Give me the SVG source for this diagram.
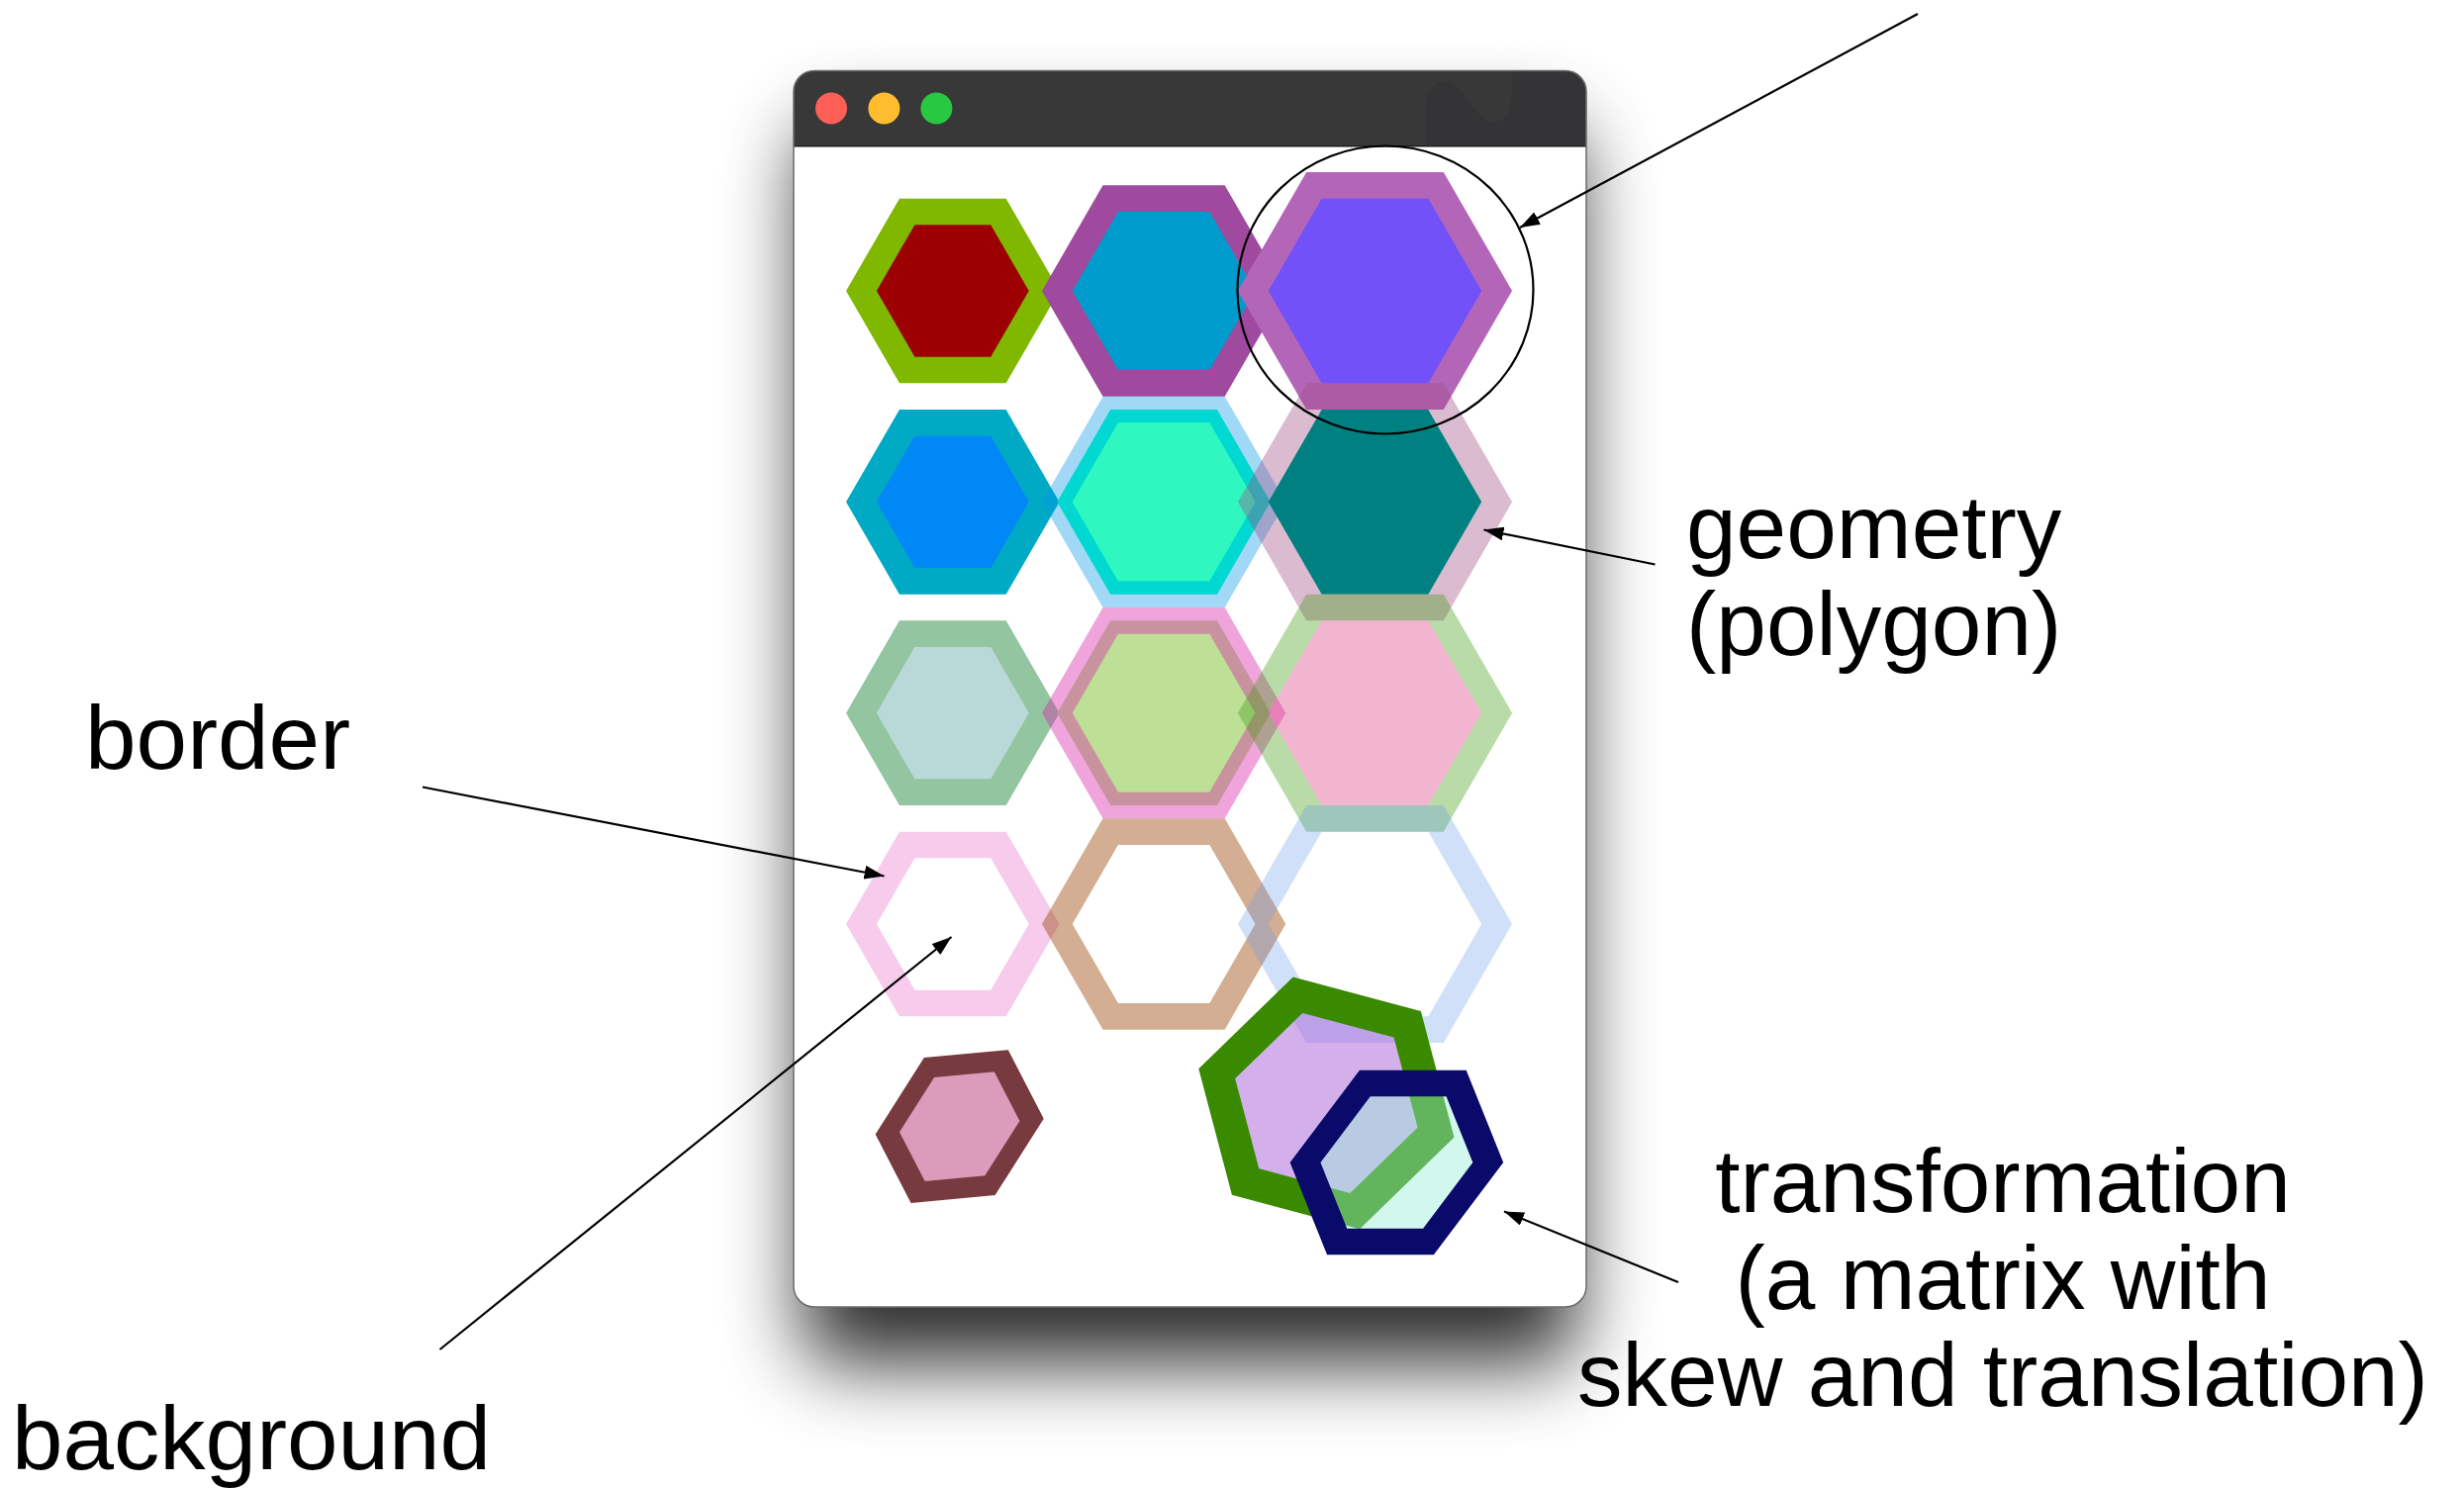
<svg xmlns="http://www.w3.org/2000/svg" xmlns:xlink="http://www.w3.org/1999/xlink" width="2490" height="1504" viewBox="0 0 2490 1504">
<style>
.lbl{font-family:"Liberation Sans",Arial,Helvetica,sans-serif;font-size:91px;fill:#000}
.conn{stroke:#000;stroke-width:2.2;fill:none;marker-end:url(#ah)}
.rw{stroke-width:26.67;stroke-linejoin:miter}
</style>
<defs>
<filter id="shadow" x="-30%" y="-20%" width="160%" height="140%"><feGaussianBlur stdDeviation="40"/></filter>
<clipPath id="winclip"><rect x="802" y="71.5" width="801" height="1249.5" rx="21"/></clipPath>
<marker id="ah" viewBox="0 0 20 14" refX="20" refY="7" markerWidth="20" markerHeight="14" markerUnits="userSpaceOnUse" orient="auto"><path d="M0,0 L20,7 L0,14 z" fill="#000"/></marker>
<polygon id="hA" points="92.376,0 46.188,-80 -46.188,-80 -92.376,0 -46.188,80 46.188,80"/>
<polygon id="hB" points="107.772,0 53.886,-93.333 -53.886,-93.333 -107.772,0 -53.886,93.333 53.886,93.333"/>
<polygon id="hC" points="123.168,0 61.584,-106.667 -61.584,-106.667 -123.168,0 -61.584,106.667 61.584,106.667"/>
</defs>
<rect width="2490" height="1504" fill="#fff"/>
<g id="window">
<rect x="812" y="128" width="781" height="1250" rx="30" fill="#000" opacity="0.82" filter="url(#shadow)"/>
<rect x="802" y="71.5" width="801" height="1249.5" rx="21" fill="#fff"/>
<path d="M802,147.7 L802,92.5 A21,21 0 0 1 823,71.5 L1582,71.5 A21,21 0 0 1 1603,92.5 L1603,147.7 Z" fill="#383838"/>
<path clip-path="url(#winclip)" d="M1441.7,147.7 L1441.7,103 C1441.7,88 1455,80 1465,83 C1480,88 1495,124 1508,124 C1522,124 1527,108 1528,96 L1528,71 L1610,71 L1610,147.7 Z" fill="#343437"/>
<line x1="802" y1="147.7" x2="1603" y2="147.7" stroke="#1c1c1c" stroke-width="1.5"/>
<rect x="802" y="71.5" width="801" height="1249.5" rx="21" fill="none" stroke="#6b6b6b" stroke-width="1.5"/>
<circle cx="840" cy="109.5" r="16" fill="#fe5f57"/>
<circle cx="893.4" cy="109.5" r="16" fill="#febc2e"/>
<circle cx="946.4" cy="109.5" r="16" fill="#28c840"/>
</g>
<g id="hex-r1c1"><use href="#hA" x="962.8" y="294" class="rw" fill="#9c0000" stroke="#80b800"/></g>
<g id="hex-r1c2"><use href="#hB" x="1176.1" y="294" class="rw" fill="#009bcd" stroke="#9f4a9e"/></g>
<g id="hex-r1c3"><use href="#hC" x="1389.5" y="294" class="rw" fill="#7251f9" stroke="#b366b8"/></g>
<g id="hex-r2c1"><use href="#hA" x="962.8" y="507.3" class="rw" fill="#0088f6" stroke="#00aac4"/></g>
<g id="hex-r2c2"><use href="#hB" x="1176.1" y="507.3" class="rw" fill="#00ffc4" stroke="rgba(0,150,230,0.37)"/><use href="#hA" x="1176.1" y="507.3" fill="#2ef8bf"/></g>
<g id="hex-r2c3"><use href="#hB" x="1389.5" y="507.3" fill="#008080"/><use href="#hC" x="1389.5" y="507.3" class="rw" fill="none" stroke="rgba(160,76,131,0.38)"/></g>
<g id="hex-r3c1"><use href="#hA" x="962.8" y="720.7" class="rw" fill="#b9d9d8" stroke="#93c5a0"/></g>
<g id="hex-r3c2"><use href="#hB" x="1176.1" y="720.7" class="rw" fill="#bddf96" stroke="rgba(217,40,171,0.42)"/></g>
<g id="hex-r3c3"><use href="#hB" x="1389.5" y="720.7" fill="rgba(222,65,134,0.39)"/><use href="#hC" x="1389.5" y="720.7" class="rw" fill="none" stroke="rgba(58,155,13,0.36)"/></g>
<g id="hex-r4c1"><use href="#hA" x="962.8" y="934" class="rw" fill="none" stroke="#f6cbec"/></g>
<g id="hex-r4c2"><use href="#hB" x="1176.1" y="934" class="rw" fill="none" stroke="rgba(157,75,13,0.45)"/></g>
<g id="hex-r4c3"><use href="#hC" x="1389.5" y="934" class="rw" fill="none" stroke="rgba(98,152,232,0.3)"/></g>
<g id="hex-small" transform="matrix(0.789,-0.073,-0.071,0.787,969.7,1138.6)"><use href="#hA" class="rw" fill="#db9bbb" stroke="#773a3f"/></g>
<g id="hex-rotated" transform="matrix(1.198,0.321,-0.331,1.18,1340.4,1114.9)"><use href="#hA" class="rw" fill="rgba(167,97,217,0.5)" stroke="#3a8a00"/></g>
<g id="hex-skewed" transform="matrix(1,0,-0.176,1,1411.4,1175)"><use href="#hA" class="rw" fill="rgba(150,239,215,0.43)" stroke="#0a0a6a"/></g>
<g id="highlight-circle"><ellipse cx="1400" cy="293" rx="149.5" ry="145.5" fill="none" stroke="#000" stroke-width="2.2"/></g>
<g id="connectors">
<line class="conn" x1="1938" y1="14" x2="1536" y2="230"/>
<line class="conn" x1="1672.5" y1="570.5" x2="1499.5" y2="535.5"/>
<line class="conn" x1="427" y1="795.5" x2="893.5" y2="885.5"/>
<line class="conn" x1="444.5" y1="1364" x2="961.5" y2="947"/>
<line class="conn" x1="1696" y1="1296" x2="1520" y2="1224.5"/>
</g>
<g id="label-geometry"><text class="lbl" x="1704" y="564">geometry</text><text class="lbl" x="1704" y="662">(polygon)</text></g>
<g id="label-border"><text class="lbl" x="86" y="777" textLength="268" lengthAdjust="spacingAndGlyphs">border</text></g>
<g id="label-background"><text class="lbl" x="12" y="1485" textLength="484" lengthAdjust="spacingAndGlyphs">background</text></g>
<g id="label-transformation"><text class="lbl" x="2024" y="1225" text-anchor="middle">transformation</text><text class="lbl" x="2024" y="1323" text-anchor="middle">(a matrix with</text><text class="lbl" x="2024" y="1421" text-anchor="middle">skew and translation)</text></g>
</svg>
